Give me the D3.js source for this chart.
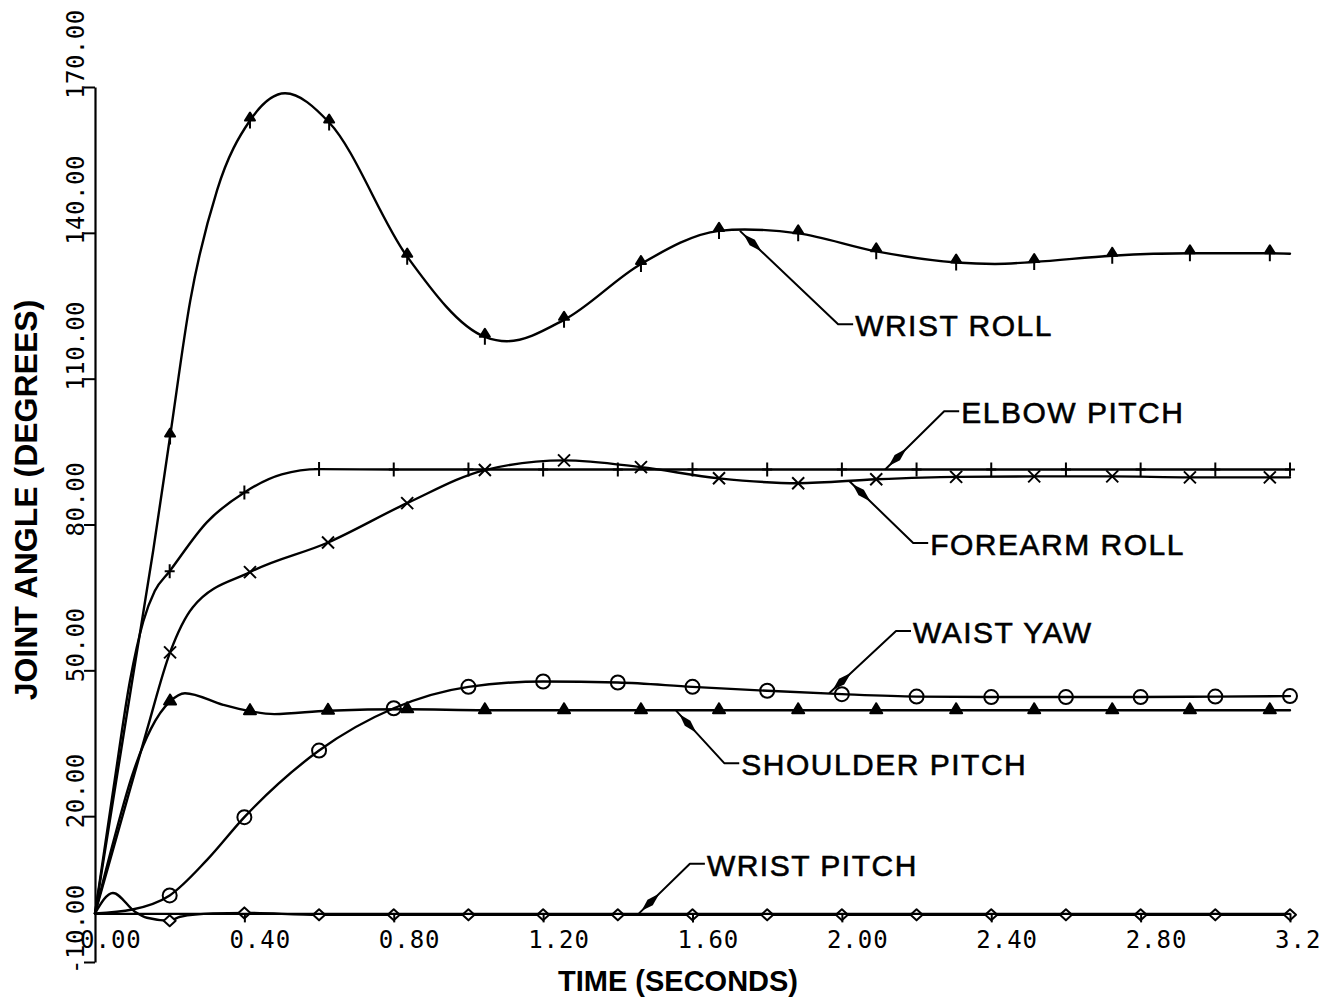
<!DOCTYPE html>
<html><head><meta charset="utf-8">
<script src="https://cdn.jsdelivr.net/npm/d3@7"></script>
<style>html,body{margin:0;padding:0;background:#fff}</style>
</head><body>
<svg id="c" width="1335" height="1000"></svg>
<script>
// ---- tick labels ----
const xTickValues = [0, 0.4, 0.8, 1.2, 1.6, 2.0, 2.4, 2.8, 3.2];
const xTickLabels = ["0.00","0.40","0.80","1.20","1.60","2.00","2.40","2.80","3.2"];
const yTickValues = [-10, 20, 50, 80, 110, 140, 170];
const yTickLabels = ["-10.00","20.00","50.00","80.00","110.00","140.00","170.00"];

// ---- series: marker samples [time, angle] and extra (unmarked) curve samples ----
const wristRollMarkers = [[0.201,98.1],[0.415,163.1],[0.627,162.7],[0.836,135.1],[1.044,118.6],[1.256,122.1],[1.462,133.6],[1.671,140.4],[1.883,139.9],[2.092,136.2],[2.306,133.9],[2.515,134.0],[2.724,135.3],[2.932,135.8],[3.146,135.8]];
const wristRollExtra = [[0,0],[0.1,48],[0.156,74.7],[0.255,126],[0.327,148.8],[0.509,168.7],[1.103,117.7],[1.74,140.7],[2.41,133.6],[3.2,135.7]];

const elbowPitchMarkers = [[0.2,70.4],[0.4,86.6],[0.6,91.4],[0.8,91.3],[1.0,91.3],[1.2,91.3],[1.4,91.3],[1.6,91.3],[1.8,91.3],[2.0,91.3],[2.2,91.3],[2.4,91.3],[2.6,91.3],[2.8,91.3],[3.0,91.3],[3.2,91.3]];
const elbowPitchExtra = [[0,0],[0.05,26],[0.094,48],[0.129,60],[0.16,66.3],[0.3,80.5],[0.5,90.3]];

const forearmRollMarkers = [[0.201,53.7],[0.415,70.2],[0.624,76.3],[0.836,84.4],[1.044,91.2],[1.256,93.2],[1.462,91.8],[1.671,89.5],[1.883,88.5],[2.092,89.3],[2.306,89.8],[2.515,89.9],[2.724,89.9],[2.932,89.7],[3.146,89.7]];
const forearmRollExtra = [[0,0],[0.07,19],[0.139,37.7],[0.262,63],[3.2,89.7]];

const waistYawMarkers = [[0.2,3.7],[0.4,19.8],[0.6,33.5],[0.8,42.2],[1.0,46.6],[1.2,47.7],[1.4,47.5],[1.6,46.6],[1.8,45.8],[2.0,45.1],[2.2,44.6],[2.4,44.5],[2.6,44.5],[2.8,44.5],[3.0,44.6],[3.2,44.7]];
const waistYawExtra = [[0,0],[0.1,0.8],[0.3,11.0]];

const shoulderPitchMarkers = [[0.201,43.6],[0.415,41.6],[0.624,41.7],[0.836,42.0],[1.044,41.8],[1.256,41.8],[1.462,41.8],[1.671,41.8],[1.883,41.8],[2.092,41.8],[2.306,41.8],[2.515,41.8],[2.724,41.8],[2.932,41.8],[3.146,41.8]];
const shoulderPitchExtra = [[0,0],[0.05,15],[0.1,28.5],[0.15,38],[0.241,45.3],[0.343,42.9],[0.48,41.0],[3.2,41.8]];

const wristPitchMarkers = [[0.2,-1.5],[0.4,0.1],[0.6,-0.3],[0.8,-0.3],[1.0,-0.3],[1.2,-0.3],[1.4,-0.3],[1.6,-0.3],[1.8,-0.3],[2.0,-0.3],[2.2,-0.3],[2.4,-0.3],[2.6,-0.3],[2.8,-0.3],[3.0,-0.3],[3.2,-0.3]];
const wristPitchExtra = [[0,0],[0.048,4.2],[0.107,0.35],[0.139,-0.9],[0.228,-0.7],[0.316,0]];

// ---- annotations: point on curve and leader knee, in data units ----
const annotations = [
  {label:"WRIST ROLL",     at:[1.727,140.4], knee:[1.990,121.2]},
  {label:"ELBOW PITCH",    at:[2.116,91.3],  knee:[2.274,103.3]},
  {label:"FOREARM ROLL",   at:[2.019,89.0],  knee:[2.191,76.2]},
  {label:"WAIST YAW",      at:[1.966,45.3],  knee:[2.145,58.1]},
  {label:"SHOULDER PITCH", at:[1.556,41.7],  knee:[1.685,30.9]},
  {label:"WRIST PITCH",    at:[1.454,-0.2],  knee:[1.593,10.2]}
];

const series = [
  {name:"wristRoll", markers:wristRollMarkers, extra:wristRollExtra, symbol:"arrow"},
  {name:"elbowPitch", markers:elbowPitchMarkers, extra:elbowPitchExtra, symbol:"plus"},
  {name:"forearmRoll", markers:forearmRollMarkers, extra:forearmRollExtra, symbol:"cross"},
  {name:"waistYaw", markers:waistYawMarkers, extra:waistYawExtra, symbol:"circle"},
  {name:"shoulderPitch", markers:shoulderPitchMarkers, extra:shoulderPitchExtra, symbol:"triangle"},
  {name:"wristPitch", markers:wristPitchMarkers, extra:wristPitchExtra, symbol:"diamond"}
];

// ---- drawing ----
const svg = d3.select("#c");
const x = d3.scaleLinear().domain([0, 3.2]).range([95, 1290]);
const y = d3.scaleLinear().domain([-10, 170]).range([962, 87]);

const line = d3.line().x(d => x(d[0])).y(d => y(d[1])).curve(d3.curveMonotoneX);

const gCurves = svg.append("g");
series.forEach(s => {
  const pts = s.markers.concat(s.extra).sort((a,b) => a[0]-b[0]);
  gCurves.append("path").attr("d", line(pts))
    .attr("fill","none").attr("stroke","#000").attr("stroke-width",2.4)
    .attr("stroke-linejoin","round").attr("stroke-linecap","round");
});

const symbolPaths = {
  arrow: "M0,-8 L-5,0 L5,0 Z M0,0 L0,8",
  plus: "M0,-7 L0,7 M-5,0 L5,0",
  cross: "M-6,-6 L6,6 M-6,6 L6,-6",
  triangle: "M0,-7 L-6,3 L6,3 Z",
  diamond: "M0,-5.5 L6,0 L0,5.5 L-6,0 Z"
};
const gMarks = svg.append("g");
series.forEach(s => {
  const g = gMarks.append("g");
  s.markers.forEach(d => {
    if (s.symbol === "circle") {
      g.append("circle").attr("cx", x(d[0])).attr("cy", y(d[1])).attr("r", 7)
        .attr("fill","none").attr("stroke","#000").attr("stroke-width",2);
    } else {
      const filled = (s.symbol === "arrow" || s.symbol === "triangle");
      g.append("path").attr("d", symbolPaths[s.symbol])
        .attr("transform", `translate(${x(d[0])},${y(d[1])})`)
        .attr("fill", filled ? "#000" : (s.symbol==="diamond" ? "#fff" : "none"))
        .attr("stroke","#000").attr("stroke-width", 2).attr("stroke-linejoin","round");
    }
  });
});

// axes
const xAxis = d3.axisBottom(x).tickValues(xTickValues.slice(1)).tickSize(9).tickSizeOuter(0).tickFormat("");
const gx = svg.append("g").attr("transform", `translate(0,${y(0)})`).call(xAxis);
gx.select(".domain").attr("stroke-width", 2.2);
gx.selectAll(".tick line").attr("stroke-width", 2);

const yAxis = d3.axisLeft(y).tickValues(yTickValues).tickSize(11).tickSizeOuter(0).tickFormat("");
const gy = svg.append("g").attr("transform", `translate(${x(0)},0)`).call(yAxis);
gy.select(".domain").attr("stroke-width", 2.2);
gy.selectAll(".tick line").attr("stroke-width", 2);

const tickFont = "'DejaVu Sans Mono', monospace";
svg.append("g").selectAll("text").data(xTickValues).join("text")
  .attr("x", d => x(d) - 15).attr("y", 948)
  .attr("font-family", tickFont).attr("font-size", 24).attr("letter-spacing", 1)
  .text((d,i) => xTickLabels[i]);

svg.append("g").selectAll("text").data(yTickValues).join("text")
  .attr("transform", d => `translate(84,${y(d) + 12}) rotate(-90)`)
  .attr("font-family", tickFont).attr("font-size", 24).attr("letter-spacing", 0.5)
  .text((d,i) => yTickLabels[i]);

// axis titles
svg.append("text").attr("transform","translate(37,500) rotate(-90)")
  .attr("text-anchor","middle").attr("font-family","'Liberation Sans', Arial, sans-serif")
  .attr("font-weight","bold").attr("font-size",32).text("JOINT ANGLE (DEGREES)");
svg.append("text").attr("x",678).attr("y",991)
  .attr("text-anchor","middle").attr("font-family","'Liberation Sans', Arial, sans-serif")
  .attr("font-weight","bold").attr("font-size",29).text("TIME (SECONDS)");

// annotations
const gAnn = svg.append("g");
annotations.forEach(a => {
  const ax = x(a.at[0]), ay = y(a.at[1]);
  const kx = x(a.knee[0]), ky = y(a.knee[1]);
  const tx = kx + 17, ty = ky + 12;
  gAnn.append("path").attr("d", `M${ax},${ay} L${kx},${ky} L${tx-2},${ky}`)
    .attr("fill","none").attr("stroke","#000").attr("stroke-width",2).attr("stroke-linejoin","round");
  const dx = kx-ax, dy = ky-ay, L = Math.hypot(dx,dy), ux = dx/L, uy = dy/L, px = -uy, py = ux;
  const p = (s,w) => [ax+ux*s+px*w, ay+uy*s+py*w];
  const kite = [p(5,0), p(17,3.8), p(30,0), p(17,-3.8)];
  gAnn.append("path").attr("d", "M" + kite.map(q => q.join(",")).join("L") + "Z").attr("fill","#000");
  gAnn.append("text").attr("x", tx).attr("y", ty)
    .attr("font-family","'Liberation Sans', Arial, sans-serif").attr("font-size",30)
    .attr("letter-spacing",1.5).attr("stroke","#000").attr("stroke-width",0.6)
    .text(a.label);
});
</script>
</body></html>
